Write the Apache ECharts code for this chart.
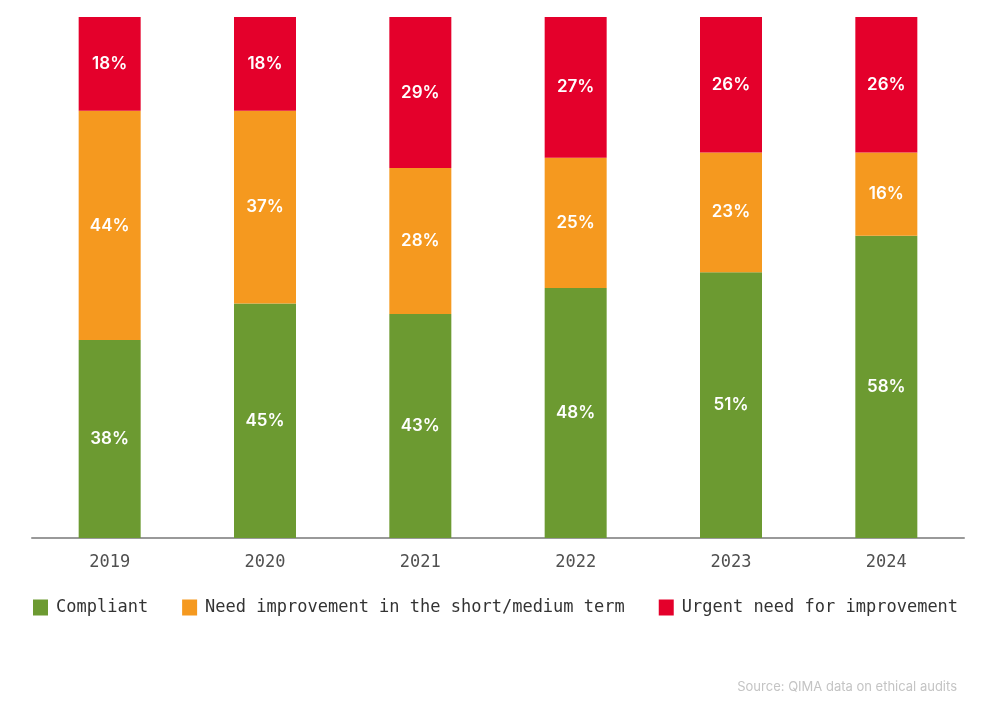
<!DOCTYPE html>
<html>
<head>
<meta charset="utf-8">
<script src="https://cdn.jsdelivr.net/npm/echarts@6/dist/echarts.min.js"></script>
<style>
  html, body { margin: 0; padding: 0; background: #fff; }
  #chart { width: 1000px; height: 715px; }
</style>
</head>
<body>
<div id="chart"></div>
<script>
// data (percent of audits)
var years = ["2019", "2020", "2021", "2022", "2023", "2024"];
var compliant = [38, 45, 43, 48, 51, 58];
var needImprovement = [44, 37, 28, 25, 23, 16];
var urgent = [18, 18, 29, 27, 26, 26];

var monoFont = "'DejaVu Sans Mono', 'Liberation Mono', monospace";

var myChart = echarts.init(document.getElementById('chart'));

var barLabel = {
    show: true,
    position: 'inside',
    color: '#fff',
    fontFamily: 'Inter, Roboto, sans-serif',
    fontWeight: 600,
    fontSize: 17,
    formatter: '{c}%'
};

function makeSeries(name, data, color) {
    return {
        name: name,
        type: 'bar',
        stack: 'total',
        barWidth: 62,
        data: data,
        itemStyle: { color: color },
        label: barLabel
    };
}

var option = {
    backgroundColor: '#fff',
    animation: false,
    grid: {
        left: 32,
        right: 36,
        top: 17,
        bottom: 177,
        containLabel: false
    },
    xAxis: {
        type: 'category',
        data: years,
        axisLine: { lineStyle: { color: '#999', width: 2 } },
        axisTick: { show: false },
        axisLabel: {
            color: '#505050',
            fontFamily: monoFont,
            fontSize: 17,
            margin: 16
        }
    },
    yAxis: {
        type: 'value',
        min: 0,
        max: 100,
        show: false
    },
    legend: {
        left: 28,
        top: 594,
        itemWidth: 15,
        itemHeight: 16,
        itemGap: 34,
        icon: 'rect',
        textStyle: {
            color: '#333',
            fontFamily: monoFont,
            fontSize: 17,
            padding: [0, 0, 0, 3]
        }
    },
    graphic: [{
        type: 'text',
        right: 43,
        top: 681,
        style: {
            text: 'Source: QIMA data on ethical audits',
            fill: '#c4c4c4',
            font: '13px Inter, sans-serif'
        }
    }],
    series: [
        makeSeries('Compliant', compliant, '#6c9a31'),
        makeSeries('Need improvement in the short/medium term', needImprovement, '#f5991f'),
        makeSeries('Urgent need for improvement', urgent, '#e4002b')
    ]
};

myChart.setOption(option);
</script>
</body>
</html>
